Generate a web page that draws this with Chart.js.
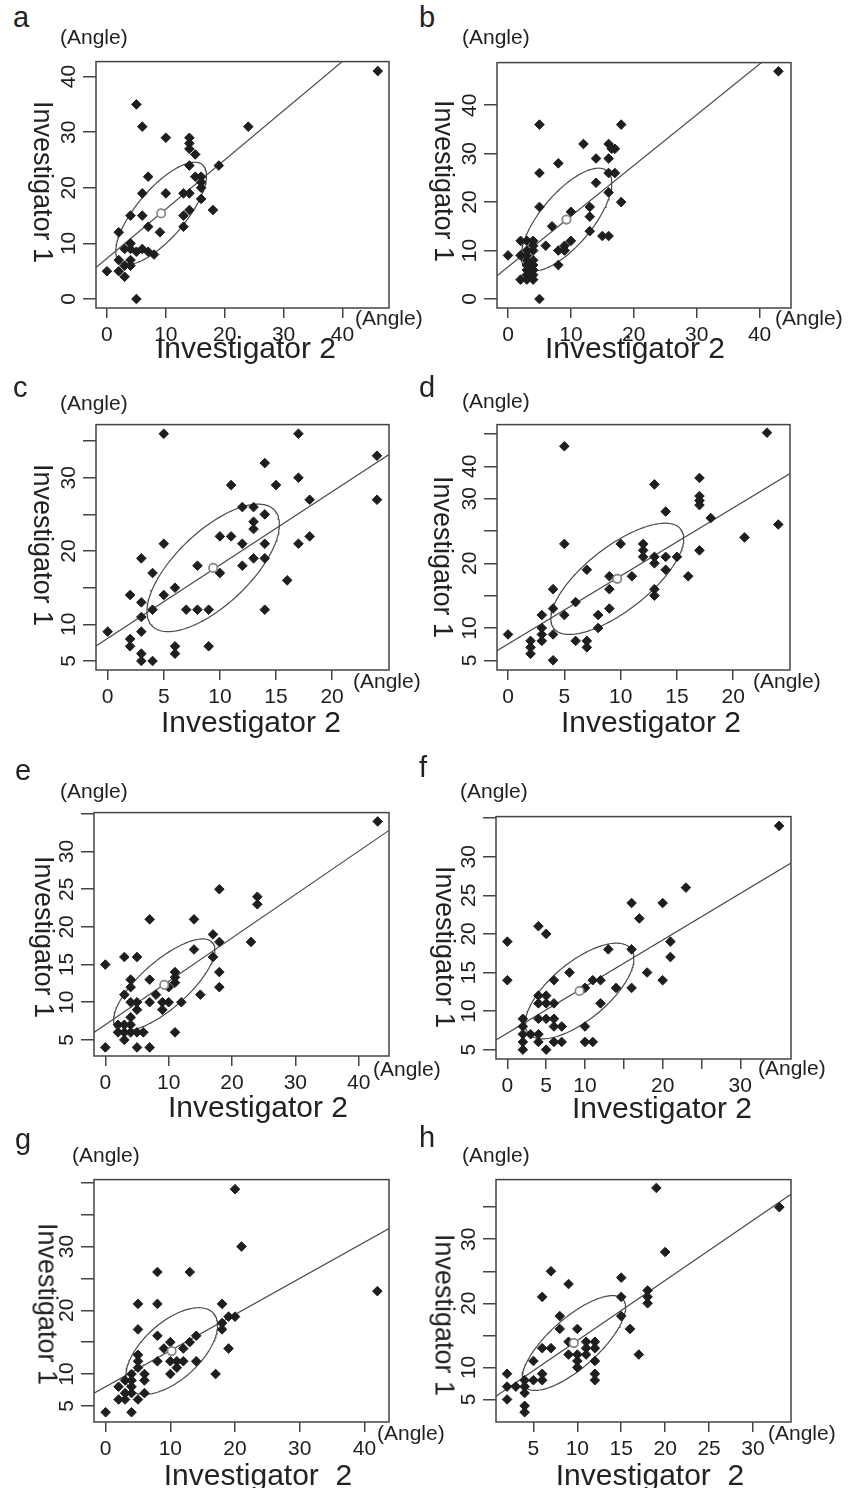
<!DOCTYPE html>
<html>
<head>
<meta charset="utf-8">
<script src="https://cdn.jsdelivr.net/npm/chart.js@4.4.1/dist/chart.umd.min.js"></script>
<style>
  body { margin: 0; background: #fff; width: 855px; height: 1488px; position: relative; overflow: hidden;
         font-family: 'Liberation Sans', Arial, sans-serif; color: #222; }
  .cv { position: absolute; }
  .t { position: absolute; white-space: pre; line-height: 1; }
</style>
</head>
<body>
<script>
// Panel data (Investigator 2 = x, Investigator 1 = y)
const aX = [46,5,6,10,24,14,14,14,15,19,14,7,15,16,16,16,6,10,13,14,16,18,14,13,4,6,7,13,9,2,4,3,4,5,6,7,8,2,4,0,2,3,4,3,5];
const aY = [41,35,31,29,31,29,28,27,26,24,24,22,22,22,21,20,19,19,19,19,18,16,16,15,15,15,13,13,12,12,10,9,9,8.5,9,8.5,8,7,7,5,5,4,6,6,0];

const bX = [43,5,18,12,8,5,16,16.5,17,14,16,16,17,14,16,18,5,10,13,13,7,13,15,16,10,9,6,8,9,8,0,2,3,4,2,3,3,4,4,3,4,3,4,3,4,3,4,2,3,4,5];
const bY = [47,36,36,32,28,26,32,31,31,29,29,26,26,24,22,20,19,18,19,17,15,14,13,13,12,11,11,10,10,7,9,12,12,12,9,9,10,10,11,8,8,7,7,6,6,5,5,4,4,4,0];

const cX = [5,17,14,24,24,17,11,15,18,12,13,14,13,13,10,11,18,12,14,17,5,3,13,14,8,12,10,4,16,6,2,5,3,4,7,8,9,14,3,0,3,2,2,6,6,9,3,3,4];
const cY = [36,36,32,33,27,30,29,29,27,26,26,25,24,23,22,22,22,21,21,21,21,19,19,19,18,18,17,17,16,15,14,14,13,12,12,12,12,12,11,9,9,8,7,7,6,7,6,5,5];

const dX = [23,5,13,17,17,17,17,14,18,24,21,5,10,12,12,12,17,13,13,14,15,7,14,9,11,16,9,4,13,13,6,4,9,3,5,8,3,3,3,8,0,4,2,2,2,6,7,7,4];
const dY = [40.2,38.1,32.2,33.2,30.4,29.7,29,28,27,26,24,23,23,23,22,21,22,21,20,21,21,19,19,18,18,18,16,16,16,15,14,13,13,12,12,12,10,9,8,10,9,9,8,7,6,8,8,7,5];

const eX = [43,18,24,24,7,14,17,18,23,14,3,5,17,0,18,11,11,11,7,4,4,3,8,18,10,15,4,5,7,9,10,12,5,9,4,2,3,4,2,3,4,5,6,3,11,0,5,7];
const eY = [34,25,24,23,21,21,19,18,18,17,16,16,16,15,14,14,13.3,12.6,13,13,12,11,11,12,12,11,10,10,10,10,10,10,9,9,8,7,7,7,6,6,6,6,6,5,6,4,4,4];

const fX = [35,23,16,20,17,4,5,0,21,13,16,21,8,18,0,6,11,12,20,10,14,16,4,5,4,5,6,12,2,4,5,6,2,6,7,10,2,3,4,2,4,6,7,10,11,2,5];
const fY = [34,26,24,24,22,21,20,19,19,18,18,17,15,15,14,14,14,14,14,13,13,13,12,12,11,11,11,11,9,9,9,9,8,8,8,8,7,7,7,6,6,6,6,6,6,5,5];

const gX = [20,21,42,8,13,5,8,18,19,20,18,18,5,8,14,13,10,9,19,12,5,5,8,10,11,12,14,5,11,10,17,4,4,6,6,3,2,4,2,3,5,6,3,4,0,4];
const gY = [39,30,23,26,26,21,21,21,19,19,18,17,17,16,16,15,15,14,14,14,13,12,12,12,12,12,12,11,11,10,10,10,9,10,9,9,8,8,6,6,6,7,7,7,4,4];

const hX = [19,33,20,7,9,15,6,15,18,18,18,8,15,8,10,16,17,6,7,5,9,11,12,9,10,11,12,10,11,10,12,12,12,6,6,5,4,2,2,3,4,4,2,4,4];
const hY = [38,35,28,25,23,24,21,21,22,21,20,18,18,16,16,16,12,13,13,11,14,14,14,12,12,13,13,11,12,10,11,9,8,9,8,8,8,9,7,7,7,6,5,4,3];

// Regression line [intercept, slope] and data ellipse [meanX, meanY, halfWidth, halfHeight, r]
const aFit = [7.3, 0.886],  aEll = [9.2, 15.4, 7.7, 9.2, 0.74];
const bFit = [6.61, 1.047], bEll = [9.3, 16.4, 7.2, 10.6, 0.71];
const cFit = [8.1, 1.0],    cEll = [9.4, 17.7, 5.9, 8.7, 0.68];
const dFit = [7.52, 1.053], dEll = [9.7, 17.6, 5.9, 8.6, 0.72];
const eFit = [7.01, 0.576], eEll = [9.3, 12.3, 8.0, 6.1, 0.76];
const fFit = [7.13, 0.604], fEll = [9.3, 12.6, 7.0, 6.2, 0.68];
const gFit = [8.02, 0.566], gEll = [10.2, 13.6, 7.1, 6.8, 0.59];
const hFit = [4.81, 0.938], hEll = [9.6, 13.8, 5.9, 7.4, 0.75];

// Tick positions and their labels ('' = unlabeled tick)
const ticks10to40 = [0,10,20,30,40], labels10to40 = ['0','10','20','30','40'];
const ticks0to20 = [0,5,10,15,20],   labels0to20 = ['0','5','10','15','20'];
const fXTicks = [0,5,10,15,20,25,30], fXLabels = ['0','5','10','','20','','30'];
const hXTicks = [5,10,15,20,25,30],   hXLabels = ['5','10','15','20','25','30'];
const cYTicks = [5,10,15,20,25,30,35], cYLabels = ['5','10','','20','','30',''];
const dYTicks = [5,10,15,20,25,30,35,40], dYLabels = ['5','10','','20','','30','40',''];
const eYTicks = [5,10,15,20,25,30,35], eYLabels = ['5','10','15','20','25','30',''];
const gYTicks = [5,10,15,20,25,30,35,40], gYLabels = ['5','10','','20','','30','',''];
const hYTicks = [5,10,15,20,25,30,35], hYLabels = ['5','10','','20','','30',''];

// Layout: plot box [left, top, right, bottom] in page pixels, axis ranges, text positions
const panels = [
  { name:'a', x:aX, y:aY, fit:aFit, ell:aEll, box:[96,53,389,308], xr:[-1.86,47.9], yr:[-1.62,42.7],
    xt:ticks10to40, xl:labels10to40, yt:ticks10to40, yl:labels10to40,
    letter:[13,28], angTop:[60,44], angRight:[355,325], xTitle:[246,358,'Investigator 2'], yTitle:[42,182] },
  { name:'b', x:bX, y:bY, fit:bFit, ell:bEll, box:[497,54,791,308], xr:[-1.75,45.0], yr:[-1.86,48.8],
    xt:ticks10to40, xl:labels10to40, yt:ticks10to40, yl:labels10to40,
    letter:[419,28], angTop:[462,44], angRight:[775,325], xTitle:[635,358,'Investigator 2'], yTitle:[443,181] },
  { name:'c', x:cX, y:cY, fit:cFit, ell:cEll, box:[96,416,389,670], xr:[-1.04,25.07], yr:[3.77,37.25],
    xt:ticks0to20, xl:labels0to20, yt:cYTicks, yl:cYLabels,
    letter:[13,398], angTop:[60,410], angRight:[353,688], xTitle:[251,732,'Investigator 2'], yTitle:[42,545] },
  { name:'d', x:dX, y:dY, fit:dFit, ell:dEll, box:[497,416,790,670], xr:[-0.98,25.04], yr:[3.5,41.45],
    xt:ticks0to20, xl:labels0to20, yt:dYTicks, yl:dYLabels,
    letter:[419,398], angTop:[462,408], angRight:[753,688], xTitle:[651,732,'Investigator 2'], yTitle:[442,557] },
  { name:'e', x:eX, y:eY, fit:eFit, ell:eEll, box:[94,804,389,1056], xr:[-1.79,44.79], yr:[2.86,35.17],
    xt:ticks10to40, xl:labels10to40, yt:eYTicks, yl:eYLabels,
    letter:[15,781], angTop:[60,798], angRight:[373,1076], xTitle:[258,1117,'Investigator 2'], yTitle:[43,937] },
  { name:'f', x:fX, y:fY, fit:fFit, ell:fEll, box:[496,808,791,1059], xr:[-1.46,36.53], yr:[3.79,35.2],
    xt:fXTicks, xl:fXLabels, yt:eYTicks, yl:eYLabels,
    letter:[419,778], angTop:[460,798], angRight:[758,1075], xTitle:[662,1118,'Investigator 2'], yTitle:[444,947] },
  { name:'g', x:gX, y:gY, fit:gFit, ell:gEll, box:[94,1171,389,1422], xr:[-1.8,43.8], yr:[2.47,40.5],
    xt:ticks10to40, xl:labels10to40, yt:gYTicks, yl:gYLabels,
    letter:[15,1150], angTop:[72,1162], angRight:[377,1440], xTitle:[258,1485,'Investigator  2'], yTitle:[47,1304] },
  { name:'h', x:hX, y:hY, fit:hFit, ell:hEll, box:[496,1171,791,1422], xr:[0.74,34.33], yr:[1.48,39.3],
    xt:hXTicks, xl:hXLabels, yt:hYTicks, yl:hYLabels,
    letter:[419,1148], angTop:[462,1162], angRight:[768,1440], xTitle:[650,1485,'Investigator  2'], yTitle:[444,1315] }
];

const FONT = "'Liberation Sans', Arial, sans-serif";
const INK = '#1e1e1e';

function addText(txt, x, baseline, size, extra) {
  const el = document.createElement('div');
  el.className = 't';
  el.textContent = txt;
  el.style.fontSize = size + 'px';
  el.style.left = x + 'px';
  el.style.top = (baseline - 0.8465 * size) + 'px';
  if (extra) Object.assign(el.style, extra);
  document.body.appendChild(el);
  return el;
}

// Frame around the plotting region
const boxPlugin = {
  id: 'box',
  afterDraw(chart) {
    const { ctx, chartArea: a } = chart;
    ctx.save();
    ctx.strokeStyle = '#444';
    ctx.lineWidth = 1.5;
    ctx.strokeRect(a.left, a.top, a.right - a.left, a.bottom - a.top);
    ctx.restore();
  }
};

function makePanel(p) {
  const [L, T, R, B] = p.box;
  const padL = 60, padT = 6, padR = 6, padB = 46;
  const w = R - L + padL + padR, h = B - T + padT + padB;
  const wrap = document.createElement('div');
  wrap.className = 'cv';
  wrap.style.left = (L - padL) + 'px';
  wrap.style.top = (T - padT) + 'px';
  const cv = document.createElement('canvas');
  cv.width = w; cv.height = h;
  cv.style.width = w + 'px'; cv.style.height = h + 'px';
  wrap.appendChild(cv);
  document.body.appendChild(wrap);

  const [cx, cy, hx, hy, r] = p.ell;
  const phase = Math.acos(r);
  const ellipse = [];
  for (let i = 0; i <= 160; i++) {
    const t = i / 160 * 2 * Math.PI;
    ellipse.push({ x: cx + hx * Math.cos(t), y: cy + hy * Math.cos(t - phase) });
  }
  const [b0, b1] = p.fit;
  const line = p.xr.map(x => ({ x, y: b0 + b1 * x }));

  new Chart(cv, {
    type: 'scatter',
    data: {
      datasets: [
        { data: p.x.map((v, i) => ({ x: v, y: p.y[i] })), pointStyle: 'rectRot', pointRadius: 4.8,
          backgroundColor: INK, borderColor: INK, borderWidth: 1, order: 1 },
        { data: line, showLine: true, borderColor: '#4a4a4a', borderWidth: 1.2, pointRadius: 0, order: 3 },
        { data: ellipse, showLine: true, borderColor: '#4a4a4a', borderWidth: 1.2, pointRadius: 0, order: 3 },
        { data: [{ x: cx, y: cy }], pointStyle: 'circle', pointRadius: 4.2, backgroundColor: '#fff',
          borderColor: '#888', borderWidth: 1.8, order: 0 }
      ]
    },
    options: {
      responsive: false,
      animation: false,
      layout: { padding: { top: padT, right: padR, left: 0, bottom: 0 } },
      plugins: { legend: { display: false }, tooltip: { enabled: false } },
      scales: {
        x: {
          type: 'linear', min: p.xr[0], max: p.xr[1],
          afterBuildTicks: s => { s.ticks = p.xt.map(v => ({ value: v })); },
          afterFit: s => { s.height = padB; },
          border: { display: false },
          grid: { drawOnChartArea: false, drawTicks: true, tickLength: 10, color: '#444', lineWidth: 1.5 },
          ticks: { autoSkip: false, maxRotation: 0, padding: 5, color: INK, font: { family: FONT, size: 21 },
                   callback: v => p.xl[p.xt.indexOf(v)] }
        },
        y: {
          type: 'linear', min: p.yr[0], max: p.yr[1],
          afterBuildTicks: s => { s.ticks = p.yt.map(v => ({ value: v })); },
          afterFit: s => { s.width = padL; },
          border: { display: false },
          grid: { drawOnChartArea: false, drawTicks: true, tickLength: 13, color: '#444', lineWidth: 1.5 },
          ticks: { autoSkip: false, minRotation: 90, maxRotation: 90, crossAlign: 'center', padding: 2,
                   color: INK, font: { family: FONT, size: 21 },
                   callback: v => p.yl[p.yt.indexOf(v)] }
        }
      }
    },
    plugins: [boxPlugin]
  });

  // Panel texts
  addText(p.name, p.letter[0], p.letter[1], 29);
  addText('(Angle)', p.angTop[0], p.angTop[1], 21);
  addText('(Angle)', p.angRight[0], p.angRight[1], 21);
  addText(p.xTitle[2], p.xTitle[0], p.xTitle[1], 30, { transform: 'translateX(-50%)' });
  const yt = addText('Investigator 1', p.yTitle[0], p.yTitle[1], 27,
                     { transform: 'translate(-50%, -50%) rotate(90deg)' });
  yt.style.top = p.yTitle[1] + 'px';
}

panels.forEach(makePanel);
</script>
</body>
</html>
